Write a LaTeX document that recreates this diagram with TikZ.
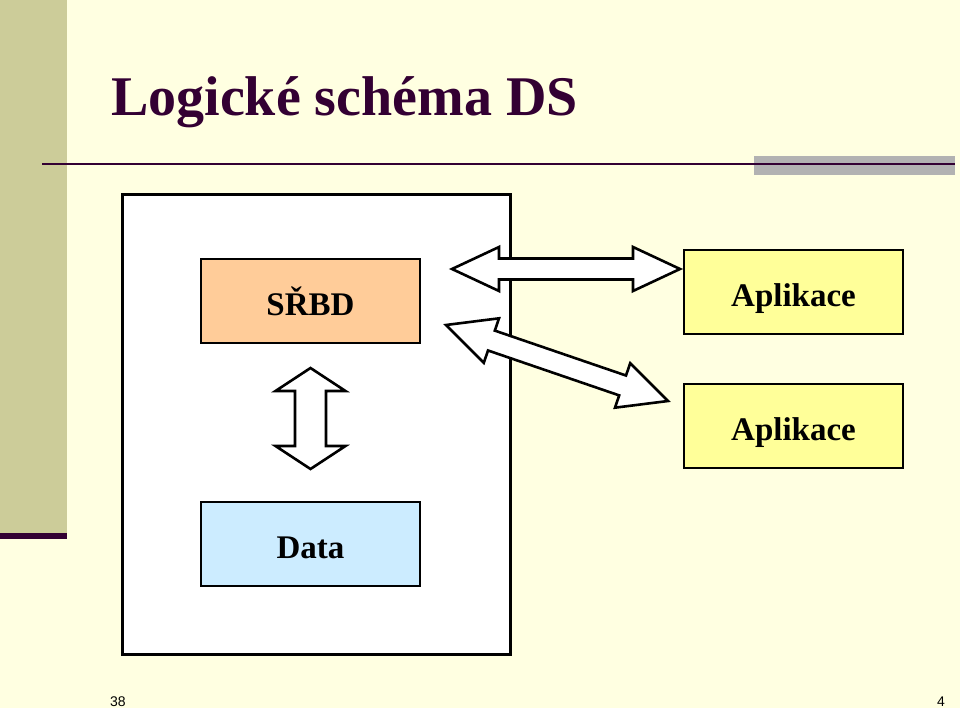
\documentclass[tikz,border=0pt]{standalone}
\usepackage{fontspec}
\setmainfont{Liberation Serif}
\newfontfamily\numfont{Liberation Sans}
\usetikzlibrary{calc,positioning}
\definecolor{cream}{HTML}{FFFFE1}
\definecolor{khaki}{HTML}{CCCC99}
\definecolor{plum}{HTML}{330033}
\definecolor{bargray}{HTML}{B2B2B2}
\definecolor{peach}{HTML}{FFCC99}
\definecolor{skyblue}{HTML}{CCECFF}
\definecolor{lemon}{HTML}{FFFF99}

\tikzset{
  box/.style={draw=black,line width=2pt,minimum width=219pt,minimum height=84pt,
    inner sep=0pt,text height=29pt,text depth=0pt,font=\fontsize{33}{36}\selectfont\bfseries},
  blockarrow/.style={draw=black,fill=white,line width=2.6pt,line join=miter},
}
% fat double arrow: from, to, head length, head half width, shaft half width
\newcommand{\fatarrow}[5]{%
  \coordinate (fa-h1) at ($(#1)!#3!(#2)$);
  \coordinate (fa-h2) at ($(#2)!#3!(#1)$);
  \draw[blockarrow] (#1)
    -- ($(fa-h1)!#4!90:(#2)$) -- ($(fa-h1)!#5!90:(#2)$)
    -- ($(fa-h2)!#5!-90:(#1)$) -- ($(fa-h2)!#4!-90:(#1)$)
    -- (#2)
    -- ($(fa-h2)!#4!90:(#1)$) -- ($(fa-h2)!#5!90:(#1)$)
    -- ($(fa-h1)!#5!-90:(#2)$) -- ($(fa-h1)!#4!-90:(#2)$)
    -- cycle;}

\begin{document}
\begin{tikzpicture}[x=1pt,y=-1pt]
  % slide background
  \fill[cream] (0,0) rectangle (960,708);
  \useasboundingbox (0,0) rectangle (960,708);
  \fill[khaki] (0,0) rectangle (67,535);
  \fill[plum] (0,533) rectangle (67,538.5);
  \fill[bargray] (754,156) rectangle (955,175.5);
  \draw[plum,line width=2pt] (42,164) -- (955,164);
  \node[anchor=base west,inner sep=0pt,text=plum,font=\fontsize{56}{60}\selectfont\bfseries]
    (title) at (111,116) {Logické schéma DS};

  % database system
  \node[draw=black,fill=white,line width=3pt,minimum width=388pt,minimum height=459pt]
    (system) at (316,424.5) {};
  \node[box,fill=peach] (srbd) at (310.5,301) {SŘBD};
  \node[box,fill=skyblue] (data) at (310.5,544) {Data};
  \node[box,fill=lemon] (app1) at (793.5,292) {Aplikace};
  \node[box,fill=lemon] (app2) at (793.5,426) {Aplikace};

  % arrows
  \coordinate (v1) at ($(srbd.south)+(0,24)$);
  \coordinate (v2) at ($(data.north)+(0,-32)$);
  \fatarrow{v1}{v2}{23pt}{35pt}{15.5pt}
  \coordinate (h1) at (452,269);
  \coordinate (h2) at (680,269);
  \fatarrow{h1}{h2}{47pt}{22pt}{10.5pt}
  \coordinate (d1) at (446,325);
  \coordinate (d2) at (668,401);
  \fatarrow{d1}{d2}{48pt}{23.5pt}{10.5pt}

  % page numbers
  \node[anchor=base west,inner sep=0pt,font=\numfont\fontsize{14}{16}\selectfont]
    (pageno) at (110,706.5) {38};
  \node[anchor=base east,inner sep=0pt,font=\numfont\fontsize{14}{16}\selectfont]
    (slideno) at (945,706) {4};
\end{tikzpicture}
\end{document}
